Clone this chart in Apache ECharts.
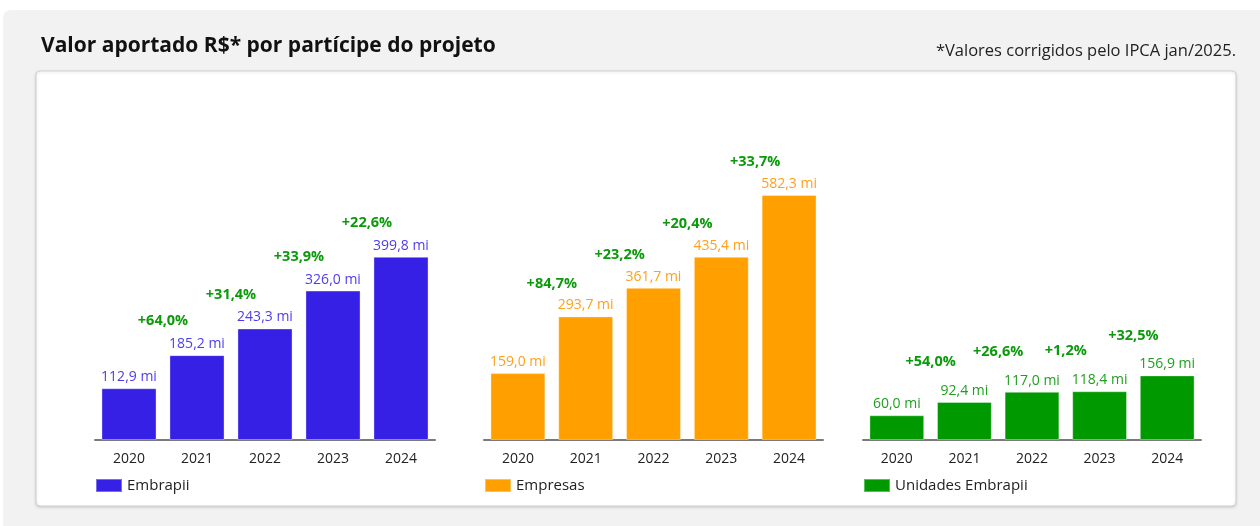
<!DOCTYPE html>
<html><head><meta charset="utf-8">
<script src="https://cdn.jsdelivr.net/npm/echarts@6/dist/echarts.min.js"></script>
<style>html,body{margin:0;padding:0;background:#fff;}#c{width:1260px;height:526px;}</style>
</head><body><div id="c"></div>
<script>
const years = ['2020','2021','2022','2023','2024'];
const embrapii = [112.9, 185.2, 243.3, 326.0, 399.8];
const empresas = [159.0, 293.7, 361.7, 435.4, 582.3];
const unidades = [60.0, 92.4, 117.0, 118.4, 156.9];
const growthEmbrapii = ['+64,0%', '+31,4%', '+33,9%', '+22,6%'];
const growthEmpresas = ['+84,7%', '+23,2%', '+20,4%', '+33,7%'];
const growthUnidades = ['+54,0%', '+26,6%', '+1,2%', '+32,5%'];
const seriesNames = ['Embrapii', 'Empresas', 'Unidades Embrapii'];
const axisMax = [742, 808, 826];

const FONT = '"Open Sans", "Noto Sans", sans-serif';
const barColors = ['#3620e6', '#ffa000', '#009a00'];
const labelColors = ['#4d3def', '#ffa01e', '#1f9f1f'];
const grids = [
  {left: 95, width: 340, top: 100, bottom: 86},
  {left: 484, width: 339, top: 100, bottom: 86},
  {left: 863, width: 338, top: 100, bottom: 86}
];
const growthLift = [34, 33, 40];
const allValues = [embrapii, empresas, unidades];
const allGrowth = [growthEmbrapii, growthEmpresas, growthUnidades];
const fmt = v => v.toFixed(1).replace('.', ',') + ' mi';

const xAxis = [], yAxis = [], series = [], legend = [];
grids.forEach((g, i) => {
  xAxis.push({
    type: 'category', gridIndex: i, data: years,
    axisLine: {lineStyle: {color: '#7a7a7a', width: 2}},
    axisTick: {show: false},
    axisLabel: {color: '#222', fontSize: 14, fontFamily: FONT, margin: 12}
  });
  yAxis.push({type: 'value', gridIndex: i, min: 0, max: axisMax[i], show: false, splitLine: {show: false}});
  series.push({
    name: seriesNames[i], type: 'bar', xAxisIndex: i, yAxisIndex: i,
    data: allValues[i], barWidth: '81%',
    itemStyle: {color: barColors[i], borderColor: 'rgba(255,255,255,0.35)', borderWidth: 1},
    label: {show: true, position: 'top', distance: 4, color: labelColors[i], fontSize: 14, fontFamily: FONT,
      formatter: p => fmt(p.value)}
  });
  const growthData = allGrowth[i].map((t, k) => [k + 1, allValues[i][k + 1], t]);
  series.push({
    type: 'custom', xAxisIndex: i, yAxisIndex: i, silent: true,
    data: growthData,
    renderItem: (params, api) => {
      const pt = api.coord([api.value(0), api.value(1)]);
      const bw = api.size([1, 0])[0];
      const txt = growthData[params.dataIndex][2];
      return {
        type: 'text',
        style: {
          x: pt[0] - bw / 2, y: pt[1] - growthLift[i], text: txt,
          fill: '#0a9a0a', font: 'bold 14.5px ' + FONT,
          align: 'center', verticalAlign: 'middle'
        }
      };
    }
  });
  legend.push({
    data: [seriesNames[i]], left: g.left, top: 478, itemWidth: 26, itemHeight: 13, icon: 'rect',
    itemGap: 5, selectedMode: false, padding: 0,
    textStyle: {color: '#222', fontSize: 15, fontFamily: FONT}
  });
});

const chart = echarts.init(document.getElementById('c'), null, {renderer: 'canvas'});
chart.setOption({
  animation: false,
  backgroundColor: '#fff',
  graphic: [
    {type: 'rect', z: -10, shape: {x: 3, y: 10, width: 1300, height: 560, r: 8}, style: {fill: '#f2f2f2'}},
    {type: 'rect', z: -9, shape: {x: 36, y: 71, width: 1200, height: 435, r: 4},
      style: {fill: '#fff', stroke: '#d2d2d2', lineWidth: 1, shadowBlur: 3, shadowColor: 'rgba(0,0,0,0.15)', shadowOffsetY: 1}},
    {type: 'text', z: 5, style: {x: 41, y: 46, text: 'Valor aportado R$* por partícipe do projeto',
      font: 'bold 21px ' + FONT, fill: '#111', verticalAlign: 'middle'}},
    {type: 'text', z: 5, style: {x: 1236, y: 51, text: '*Valores corrigidos pelo IPCA jan/2025.',
      font: '16.5px ' + FONT, fill: '#222', align: 'right', verticalAlign: 'middle'}}
  ],
  grid: grids,
  xAxis, yAxis, series, legend
});
</script></body></html>
